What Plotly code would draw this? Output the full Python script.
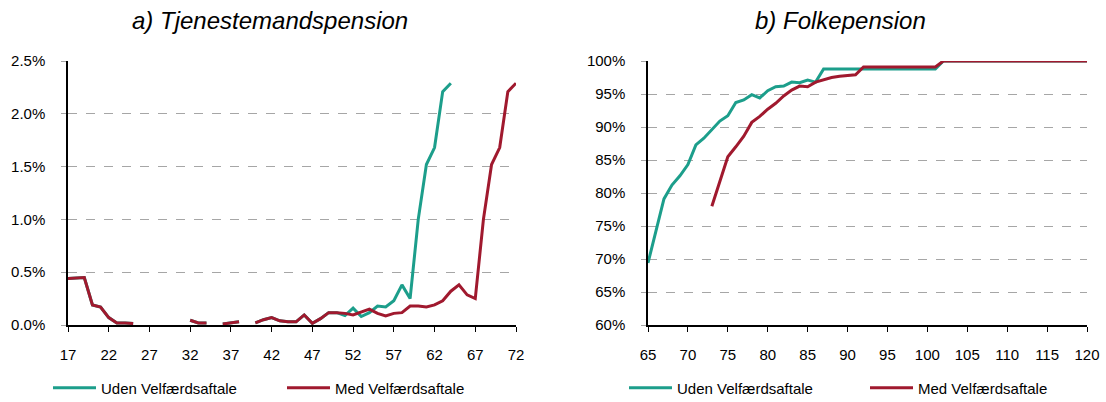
import plotly.graph_objects as go
from plotly.subplots import make_subplots

# ---- Data ----
ages_a = list(range(17, 73))
uden_a = [0.44, 0.445, 0.45, 0.19, 0.17, 0.07, 0.02, 0.02, 0.015,
          None, None, None, None, None, None,
          0.045, 0.02, 0.02, None, 0.01, 0.02, 0.03, None,
          0.02, 0.05, 0.07, 0.04, 0.03, 0.03, 0.095, 0.016, 0.06, 0.117,
          0.117, 0.09, 0.16, 0.08, 0.117, 0.18, 0.17, 0.23, 0.38, 0.25,
          1.0, 1.52, 1.68, 2.21, 2.29,
          None, None, None, None, None, None, None, None]
med_a = [0.44, 0.445, 0.45, 0.19, 0.17, 0.07, 0.02, 0.02, 0.015,
         None, None, None, None, None, None,
         0.045, 0.02, 0.02, None, 0.01, 0.02, 0.03, None,
         0.02, 0.05, 0.07, 0.04, 0.03, 0.03, 0.095, 0.016, 0.06, 0.117,
         0.117, 0.11, 0.095, 0.12, 0.15, 0.11, 0.085, 0.11, 0.117, 0.18,
         0.18, 0.17, 0.19, 0.23, 0.32, 0.38, 0.285, 0.25,
         1.0, 1.52, 1.68, 2.21, 2.29]

ages_b = list(range(65, 121))
uden_b = ([69.4, 74.2, 79.1, 81.2, 82.6, 84.3, 87.3, 88.3, 89.6, 90.9, 91.7,
           93.7, 94.1, 94.9, 94.4, 95.5, 96.1, 96.2, 96.8, 96.7, 97.1, 96.8]
          + [98.8] * 15 + [100.0] * 19)
med_b = ([None] * 8
         + [78.0, 81.7, 85.5, 87.0, 88.6, 90.7, 91.6, 92.7, 93.6, 94.7, 95.6,
            96.2, 96.1, 96.8, 97.2, 97.5, 97.7, 97.8, 97.9]
         + [99.1] * 10 + [100.0] * 19)

ticks_a = list(range(17, 73, 5))
ticks_b = list(range(65, 121, 5))
names = ["Uden Velfærdsaftale", "Med Velfærdsaftale"]
titles = ["a) Tjenestemandspension", "b) Folkepension"]

# ---- Style ----
TEAL = "#1c9e8b"
RED = "#a0192e"
FONT = "Liberation Sans, Arial, sans-serif"
W, H = 1106, 402

fig = make_subplots(rows=1, cols=2)

fig.add_trace(go.Scatter(x=ages_a, y=uden_a, name=names[0], mode="lines",
                         line=dict(color=TEAL, width=3), legend="legend",
                         connectgaps=False), 1, 1)
fig.add_trace(go.Scatter(x=ages_a, y=med_a, name=names[1], mode="lines",
                         line=dict(color=RED, width=3), legend="legend",
                         connectgaps=False), 1, 1)
fig.add_trace(go.Scatter(x=ages_b, y=uden_b, name=names[0], mode="lines",
                         line=dict(color=TEAL, width=3), legend="legend2"), 1, 2)
fig.add_trace(go.Scatter(x=ages_b, y=med_b, name=names[1], mode="lines",
                         line=dict(color=RED, width=3), legend="legend2"), 1, 2)

xa = dict(showgrid=False, zeroline=False, showline=True, linecolor="black",
          linewidth=2, ticks="outside", ticklen=5, tickcolor="black",
          tickwidth=1, tickfont=dict(size=15, color="black"),
          ticklabelstandoff=10)
ya = dict(showgrid=True, gridcolor="#a6a6a6", griddash="dash", gridwidth=1,
          zeroline=False, showline=True, linecolor="black", linewidth=1.5,
          ticks="outside", ticklen=5, tickcolor="#a6a6a6",
          tickfont=dict(size=15, color="black"), ticklabelstandoff=13)

fig.update_xaxes(**xa, range=[17, 72], tickvals=ticks_a,
                 domain=[68 / W, 516 / W], row=1, col=1)
fig.update_xaxes(**xa, range=[65, 120], tickvals=ticks_b,
                 domain=[648 / W, 1087 / W], row=1, col=2)
fig.update_yaxes(**ya, range=[0, 2.5], dtick=0.5, tickformat=".1f",
                 ticksuffix="%", domain=[77 / H, 341 / H], row=1, col=1)
fig.update_yaxes(**ya, range=[60, 100], dtick=5, tickformat=".0f",
                 ticksuffix="%", domain=[77 / H, 341 / H], row=1, col=2)

for i, (t, cx) in enumerate(zip(titles, [270 / W, 840 / W])):
    fig.add_annotation(text=t, x=cx, y=(H - 20) / H, xref="paper", yref="paper",
                       showarrow=False, xanchor="center", yanchor="middle",
                       font=dict(size=24, color="black", family=FONT,
                                 style="italic"))

leg = dict(orientation="h", yanchor="middle", xanchor="left",
           font=dict(size=15, color="black", family=FONT),
           entrywidthmode="pixels",
           bgcolor="rgba(0,0,0,0)", itemwidth=43)
fig.update_layout(
    width=W, height=H,
    margin=dict(l=0, r=0, t=0, b=0, autoexpand=False),
    paper_bgcolor="white", plot_bgcolor="white",
    font=dict(family=FONT, color="black"),
    legend=dict(**leg, x=48 / W, y=14 / H, entrywidth=176),
    legend2=dict(**leg, x=624 / W, y=14 / H, entrywidth=183),
)

fig.write_html(
    "out.html",
    config={"displayModeBar": False},
    post_script=("document.documentElement.style.margin='0';"
                 "document.body.style.margin='0';"
                 "document.body.style.padding='0';"
                 "document.body.style.overflow='hidden';"),
)
